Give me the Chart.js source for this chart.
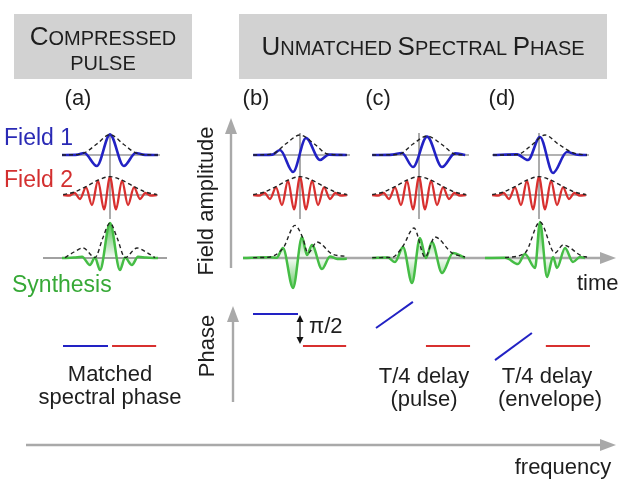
<!DOCTYPE html>
<html>
<head>
<meta charset="utf-8">
<style>
  html, body { margin: 0; padding: 0; background: #fff; }
  canvas { display: block; }
</style>
<script src="https://cdn.jsdelivr.net/npm/chart.js@4.4.0/dist/chart.umd.min.js"></script>
</head>
<body>
<canvas id="fig" width="619" height="481"></canvas>
<script>
"use strict";
// values at the extrema: [time, amplitude]
// time in carrier units, amplitude relative to field 1 peak
const field2 = [[-3.9, 0], [-3.4, -0.03], [-2.95, 0.1], [-2.5, -0.2], [-2.0, 0.38], [-1.5, -0.5], [-1.0, 0.72], [-0.5, -0.72], [0, 0.9], [0.5, -0.72], [1.0, 0.72], [1.5, -0.5], [2.0, 0.38], [2.5, -0.2], [2.95, 0.1], [3.4, -0.03], [3.9, 0]];
const env2 = [[-3.9, 0.02], [-3.0, 0.14], [-2.0, 0.42], [-1.0, 0.74], [0, 0.92], [1.0, 0.74], [2.0, 0.42], [3.0, 0.14], [3.9, 0.02]];

const field1A = [[-4, 0], [-2.7, 0.02], [-2.15, 0.1], [-1.1, -0.55], [0, 1.02], [1.15, -0.55], [2.15, 0.1], [2.75, 0.02], [4, 0]];
const env1A = [[-4, 0], [-2.6, 0.03], [-2.0, 0.15], [-1.1, 0.55], [0, 1.02], [1.1, 0.55], [2.0, 0.15], [2.6, 0.03], [4, 0]];
const synthA = [[-4, 0], [-3, 0.02], [-2.33, 0.06], [-1.67, -0.35], [-1.25, 0.02], [-0.83, -0.6], [0, 1.75], [0.83, -0.6], [1.25, 0.02], [1.83, -0.35], [2.33, 0.06], [3, 0.02], [4, 0]];
const envSA = [[-3.75, 0.02], [-3, 0.3], [-2.25, 0.5], [-1.25, 0.02], [-0.6, 1.0], [0, 1.75], [0.6, 1.0], [1.25, 0.02], [2.25, 0.5], [3, 0.3], [3.75, 0.02]];

const field1B = [[-3.9, 0], [-2.3, 0.02], [-1.67, 0.25], [-0.58, -0.85], [0.5, 0.85], [1.67, -0.25], [2.4, 0.02], [3.9, 0]];
const env1B = [[-3.9, 0], [-2.3, 0.05], [-1.2, 0.55], [0, 1.0], [1.2, 0.55], [2.3, 0.05], [3.9, 0]];
const synthB = [[-4.75, 0], [-2.5, 0.04], [-1.95, 0.01], [-1.42, 0.5], [-0.58, -1.5], [0.17, 1.05], [0.58, 0.15], [1.0, 0.65], [1.83, -0.55], [2.5, 0.08], [3.1, -0.05], [3.9, -0.04]];
const envSB = [[-3.9, 0.02], [-2.75, 0.03], [-1.4, 0.5], [-0.42, 1.63], [0.2, 1.05], [0.67, 0.25], [1.42, 0.8], [2.67, 0.2], [3.9, 0.08]];

const field1C = [[-3.9, 0], [-2.2, 0.02], [-1.42, 0.1], [-0.5, -0.6], [0.67, 0.92], [1.92, -0.6], [3.0, 0.08], [3.85, 0]];
const env1C = [[-3.9, 0], [-1.7, 0.03], [-0.5, 0.55], [0.67, 0.95], [1.85, 0.55], [3.0, 0.04], [3.85, 0]];
const synthC = [[-3.9, 0], [-2.6, 0.02], [-2.0, -0.2], [-1.33, 0.55], [-0.58, -1.25], [0.08, 1.0], [0.58, 0.0], [1.08, 0.8], [1.92, -0.75], [2.83, 0.25], [3.83, 0]];
const envSC = [[-3.9, 0.02], [-2.25, 0.03], [-1.33, 0.6], [-0.42, 1.5], [0.5, 0.05], [1.33, 1.05], [2.75, 0.25], [3.83, 0.05]];

const field1D = [[-3.83, 0], [-1.83, 0.03], [-0.92, -0.25], [0.08, 0.9], [1.17, -0.9], [2.33, 0.15], [3.2, 0.01], [4, 0]];
const env1D = [[-3.83, 0], [-1.83, 0.02], [-0.6, 0.5], [0.5, 1.0], [1.6, 0.55], [2.8, 0.12], [3.6, 0.02], [4, 0]];
const synthD = [[-4.5, 0], [-2.8, 0.01], [-1.75, -0.3], [-1.17, 0.2], [-0.33, -0.5], [0.08, 1.8], [0.67, -0.95], [1.17, 0.05], [1.5, -0.5], [2.17, 0.5], [2.83, -0.2], [3.42, 0.05], [3.83, 0]];
const envSD = [[-2.83, 0.02], [-1.17, 0.25], [0.08, 1.8], [1.33, 0.25], [2.0, 0.65], [3.58, 0.1], [4.0, 0.05]];

// spectral phase: [frequency, phase in rad]
const phaseBlueA = [[0, 0], [1, 0]];
const phaseRedA = [[1.09, 0], [2.07, 0]];
const phaseBlueB = [[0, Math.PI / 2], [1, Math.PI / 2]];
const phaseRedB = [[1.11, 0], [2.07, 0]];
const phaseBlueC = [[0, 0.88], [0.82, 2.16]];
const phaseRedC = [[1.11, 0], [2.09, 0]];
const phaseBlueD = [[0, -0.69], [0.82, 0.64]];
const phaseRedD = [[1.13, 0], [2.11, 0]];

const panelLabels = ["(a)", "(b)", "(c)", "(d)"];

// layout
const FONT = '"Liberation Sans", Arial, Helvetica, sans-serif';
const BLUE = "#2222c4";
const RED = "#d8302f";
const GREEN = "#45bd45";
const AXIS = "#a9a9a9";
const ROW = { field1: 155, field2: 195, synth: 258 };
const T_PX = 12, A_PX = 20;
const PHASE_Y = 346, F_PX = 45, RAD_PX = 20.4;

const panels = [
    { cx: 110, f1: field1A, e1: env1A, s: synthA, es: envSA, left: 63, pb: phaseBlueA, pr: phaseRedA },
    { cx: 300, f1: field1B, e1: env1B, s: synthB, es: envSB, left: 253, pb: phaseBlueB, pr: phaseRedB },
    { cx: 419, f1: field1C, e1: env1C, s: synthC, es: envSC, left: 376, pb: phaseBlueC, pr: phaseRedC },
    { cx: 539, f1: field1D, e1: env1D, s: synthD, es: envSD, left: 495, pb: phaseBlueD, pr: phaseRedD },
];

function wave(pts, cx, y0) {
    return pts.map(p => ({ x: cx + p[0] * T_PX, y: y0 - p[1] * A_PX }));
}
function phase(pts, left) {
    return pts.map(p => ({ x: left + p[0] * F_PX, y: PHASE_Y - p[1] * RAD_PX }));
}
function line(data, color, width, extra) {
    return Object.assign({
        data,
        borderColor: color,
        borderWidth: width,
        pointRadius: 0,
        cubicInterpolationMode: "monotone",
        fill: false,
        order: 1,
    }, extra || {});
}
function greenFill(ctx) {
    const chart = ctx.chart;
    if (!chart.chartArea) return "rgba(70,190,70,0.35)";
    const y0 = chart.scales.y.getPixelForValue(ROW.synth);
    const g = chart.ctx.createLinearGradient(0, y0 - 36, 0, y0 + 36);
    g.addColorStop(0, "rgba(60,185,60,0.9)");
    g.addColorStop(0.5, "rgba(60,185,60,0.04)");
    g.addColorStop(1, "rgba(60,185,60,0.9)");
    return g;
}

const datasets = [];
panels.forEach(p => {
    const dash = { borderDash: [4, 3], order: 0 };
    datasets.push(line(wave(p.s, p.cx, ROW.synth), GREEN, 2.5, { fill: { value: ROW.synth }, backgroundColor: greenFill }));
    datasets.push(line(wave(p.f1, p.cx, ROW.field1), BLUE, 2.6));
    datasets.push(line(wave(field2, p.cx, ROW.field2), RED, 2.3));
    datasets.push(line(wave(p.e1, p.cx, ROW.field1), "#222", 1.4, dash));
    datasets.push(line(wave(env2, p.cx, ROW.field2), "#222", 1.4, dash));
    datasets.push(line(wave(p.es, p.cx, ROW.synth), "#222", 1.4, dash));
    datasets.push(line(phase(p.pb, p.left), BLUE, 2, { tension: 0 }));
    datasets.push(line(phase(p.pr, p.left), RED, 2, { tension: 0 }));
});

function arrowHead(ctx, x, y, dir, len, half) {
    // dir: "right" | "up" | "down"
    ctx.beginPath();
    if (dir === "right") {
        ctx.moveTo(x, y); ctx.lineTo(x - len, y - half); ctx.lineTo(x - len, y + half);
    } else if (dir === "up") {
        ctx.moveTo(x, y); ctx.lineTo(x - half, y + len); ctx.lineTo(x + half, y + len);
    } else {
        ctx.moveTo(x, y); ctx.lineTo(x - half, y - len); ctx.lineTo(x + half, y - len);
    }
    ctx.closePath();
    ctx.fill();
}
function seg(ctx, x1, y1, x2, y2) {
    ctx.beginPath(); ctx.moveTo(x1, y1); ctx.lineTo(x2, y2); ctx.stroke();
}
function smallCaps(ctx, parts, cx, y) {
    let w = 0;
    parts.forEach(([s, sz]) => { ctx.font = sz + "px " + FONT; w += ctx.measureText(s).width; });
    let x = cx - w / 2;
    ctx.textAlign = "left";
    ctx.textBaseline = "alphabetic";
    parts.forEach(([s, sz]) => {
        ctx.font = sz + "px " + FONT;
        ctx.fillText(s, x, y);
        x += ctx.measureText(s).width;
    });
}
function text(ctx, s, x, y, opts) {
    const o = opts || {};
    ctx.save();
    ctx.font = (o.size || 22) + "px " + FONT;
    ctx.fillStyle = o.color || "#1e1e1e";
    ctx.textAlign = o.align || "center";
    ctx.textBaseline = "middle";
    ctx.translate(x, y);
    if (o.rotate) ctx.rotate(o.rotate);
    ctx.fillText(s, 0, 0);
    ctx.restore();
}

const decor = {
    id: "decor",
    beforeDraw(chart) {
        const ctx = chart.ctx;
        ctx.save();
        ctx.fillStyle = "#fff";
        ctx.fillRect(0, 0, chart.width, chart.height);
        ctx.fillStyle = "#d2d2d2";
        ctx.fillRect(14, 14, 178, 65);
        ctx.fillRect(239, 14, 368, 65);
        ctx.restore();
    },
    beforeDatasetsDraw(chart) {
        const ctx = chart.ctx;
        const X = v => chart.scales.x.getPixelForValue(v);
        const Y = v => chart.scales.y.getPixelForValue(v);
        ctx.save();
        // baselines and centre lines of the field rows
        ctx.strokeStyle = "#666";
        ctx.lineWidth = 1.1;
        panels.forEach(p => {
            seg(ctx, X(p.cx - 47), Y(ROW.field1), X(p.cx + 50), Y(ROW.field1));
            seg(ctx, X(p.cx - 47), Y(ROW.field2), X(p.cx + 48), Y(ROW.field2));
            seg(ctx, X(p.cx), Y(133), X(p.cx), Y(219));
        });
        ctx.strokeStyle = "#444";
        seg(ctx, X(43), Y(ROW.synth), X(167), Y(ROW.synth));
        // axes
        ctx.strokeStyle = AXIS;
        ctx.fillStyle = AXIS;
        ctx.lineWidth = 2.4;
        seg(ctx, X(243), Y(ROW.synth), X(604), Y(ROW.synth));
        arrowHead(ctx, X(616), Y(ROW.synth), "right", 16, 6);
        seg(ctx, X(231), Y(268), X(231), Y(132));
        arrowHead(ctx, X(231), Y(118), "up", 16, 6);
        seg(ctx, X(233), Y(402), X(233), Y(320));
        arrowHead(ctx, X(233), Y(306), "up", 16, 6);
        seg(ctx, X(26), Y(445), X(604), Y(445));
        arrowHead(ctx, X(616), Y(445), "right", 16, 6);
        ctx.restore();
    },
    afterDatasetsDraw(chart) {
        const ctx = chart.ctx;
        ctx.save();
        ctx.fillStyle = "#1e1e1e";
        smallCaps(ctx, [["C", 26], ["OMPRESSED", 20]], 103, 45);
        smallCaps(ctx, [["PULSE", 20]], 103, 70);
        smallCaps(ctx, [["U", 26], ["NMATCHED ", 20], ["S", 26], ["PECTRAL ", 20], ["P", 26], ["HASE", 20]], 423, 55);

        [78, 256, 378, 502].forEach((x, i) => text(ctx, panelLabels[i], x, 99));

        text(ctx, "Field 1", 4, 139, { color: "#2a2ab5", align: "left", size: 23 });
        text(ctx, "Field 2", 4, 181, { color: "#d32f2f", align: "left", size: 23 });
        text(ctx, "Synthesis", 12, 286, { color: "#37a937", align: "left", size: 23 });
        text(ctx, "Field amplitude", 207, 201, { rotate: -Math.PI / 2 });
        text(ctx, "time", 577, 284, { align: "left" });
        text(ctx, "Phase", 208, 346, { rotate: -Math.PI / 2 });
        text(ctx, "frequency", 563, 468);
        text(ctx, "Matched", 110, 375);
        text(ctx, "spectral phase", 110, 398);
        text(ctx, "\u03c0/2", 309, 327, { align: "left" });
        text(ctx, "T/4 delay", 424, 377);
        text(ctx, "(pulse)", 424, 400);
        text(ctx, "T/4 delay", 547, 377);
        text(ctx, "(envelope)", 550, 400);

        // pi/2 double arrow
        ctx.strokeStyle = "#111";
        ctx.fillStyle = "#111";
        ctx.lineWidth = 1.3;
        seg(ctx, 300, 320, 300, 339);
        arrowHead(ctx, 300, 315, "up", 7, 3.5);
        arrowHead(ctx, 300, 344, "down", 7, 3.5);
        ctx.restore();
    },
};

new Chart(document.getElementById("fig"), {
    type: "line",
    data: { datasets },
    options: {
        responsive: false,
        animation: false,
        events: [],
        layout: { padding: 0 },
        scales: {
            x: { type: "linear", min: 0, max: 619, display: false },
            y: { type: "linear", min: 0, max: 481, reverse: true, display: false },
        },
        plugins: { legend: { display: false }, tooltip: { enabled: false } },
    },
    plugins: [decor],
});
</script>
</body>
</html>
